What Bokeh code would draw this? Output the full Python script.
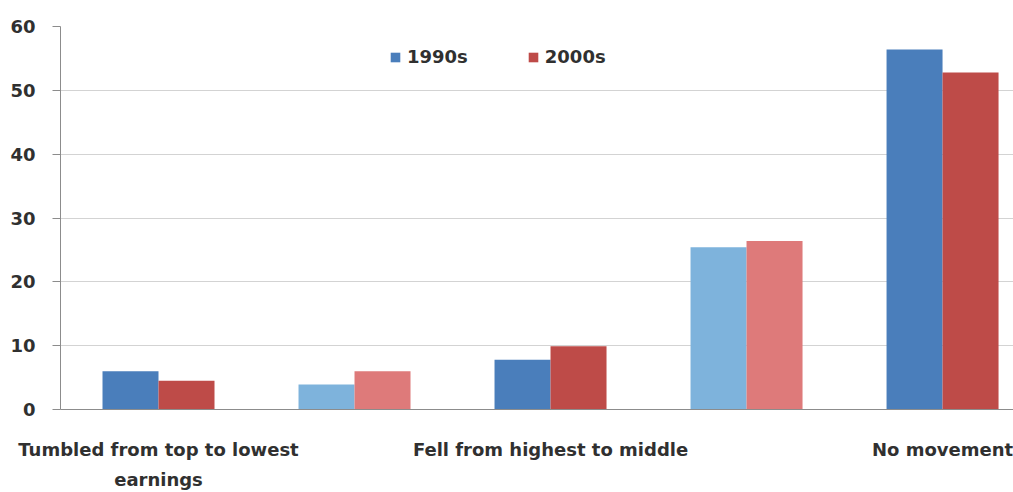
from bokeh.plotting import figure
from bokeh.models import ColumnDataSource, Range1d, FixedTicker, Legend, LegendItem
from bokeh.embed import file_html
from bokeh.resources import INLINE

# ---- data ----
categories = ["Tumbled from top to lowest earnings", "Fell from top to middle",
              "Fell from highest to middle", "Rose from middle to top", "No movement"]
tick_labels = ["Tumbled from top to lowest\nearnings", "", "Fell from highest to middle", "", "No movement"]
values_1990s = [6.0, 3.9, 7.8, 25.4, 56.4]
values_2000s = [4.5, 6.0, 9.9, 26.4, 52.8]
series_names = ["1990s", "2000s"]
y_ticks = [0, 10, 20, 30, 40, 50, 60]

# ---- styles ----
blue_dark, blue_light = "#4A7EBB", "#7EB3DC"
red_dark, red_light = "#BE4B48", "#DE7A7A"
shade = [0, 1, 0, 1, 0]  # alternate groups are drawn lighter
text_color = "#303030"
font = "DejaVu Sans"

xs = list(range(1, len(categories) + 1))
bw = 0.2857
src1 = ColumnDataSource(dict(x=[x - bw / 2 for x in xs], top=values_1990s,
                             color=[blue_light if s else blue_dark for s in shade]))
src2 = ColumnDataSource(dict(x=[x + bw / 2 for x in xs], top=values_2000s,
                             color=[red_light if s else red_dark for s in shade]))

p = figure(width=1013, height=492, output_backend="svg", toolbar_location=None,
           x_range=Range1d(0.5, 5.362), y_range=Range1d(0, 60),
           min_border_left=60, min_border_right=0, min_border_top=26, min_border_bottom=82)
p.outline_line_color = None
p.background_fill_color = "white"

r1 = p.vbar(x="x", top="top", width=bw, source=src1, fill_color="color", line_color=None)
r2 = p.vbar(x="x", top="top", width=bw, source=src2, fill_color="color", line_color=None)

# axes
p.xaxis.ticker = FixedTicker(ticks=[1, 3, 5])
p.xaxis.major_label_overrides = {x: tick_labels[x - 1] for x in [1, 3, 5]}
p.xaxis.major_tick_out = 0
p.xaxis.major_tick_in = 0
p.xaxis.minor_tick_line_color = None
p.xaxis.axis_line_color = "#8C8C8C"
p.xaxis.major_label_standoff = 29
p.xaxis.major_label_text_font = font
p.xaxis.major_label_text_font_style = "bold"
p.xaxis.major_label_text_font_size = "18px"
p.xaxis.major_label_text_color = text_color
p.xaxis.major_label_text_line_height = 1.45

p.yaxis.ticker = FixedTicker(ticks=y_ticks)
p.yaxis.major_tick_out = 8
p.yaxis.major_tick_in = 0
p.yaxis.minor_tick_line_color = None
p.yaxis.axis_line_color = "#8C8C8C"
p.yaxis.major_tick_line_color = "#8C8C8C"
p.yaxis.major_label_standoff = 17
p.yaxis.major_label_text_font = font
p.yaxis.major_label_text_font_style = "bold"
p.yaxis.major_label_text_font_size = "18px"
p.yaxis.major_label_text_color = text_color

p.xgrid.grid_line_color = None
p.ygrid.grid_line_color = "#D3D3D3"
p.ygrid.ticker = FixedTicker(ticks=y_ticks)

legend = Legend(items=[LegendItem(label=series_names[0], renderers=[r1], index=0),
                       LegendItem(label=series_names[1], renderers=[r2], index=0)],
                orientation="horizontal", location=(329, 342),
                glyph_width=12, glyph_height=12, label_standoff=6, spacing=59,
                padding=0, margin=0, border_line_color=None, background_fill_alpha=0,
                label_text_font=font, label_text_font_style="bold",
                label_text_font_size="18px", label_text_color=text_color)
p.add_layout(legend, "center")

open("out.html", "w").write(file_html(p, INLINE))
